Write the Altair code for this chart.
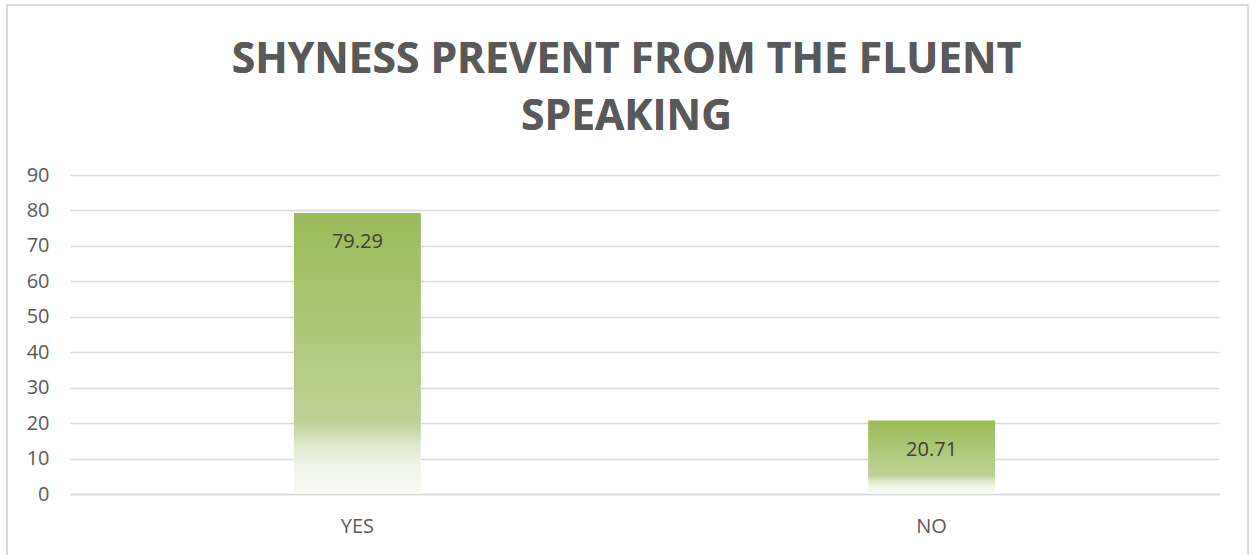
import altair as alt
import pandas as pd

categories = ["YES", "NO"]
values = [79.29, 20.71]
value_labels = ["79.29", "20.71"]
y_ticks = [0, 10, 20, 30, 40, 50, 60, 70, 80, 90]
title_lines = ["SHYNESS PREVENT FROM THE FLUENT", "SPEAKING"]

df = pd.DataFrame({"cat": categories, "val": values, "lab": value_labels})

W, H = 1149, 319
FONT = "Open Sans"

x_enc = alt.X("cat:N", sort=categories, title=None,
              scale=alt.Scale(paddingInner=0.779, paddingOuter=0.39),
              axis=alt.Axis(labelAngle=0, labelFont=FONT, labelFontSize=20,
                            labelColor="#595959", labelPadding=22, ticks=False,
                            domain=True, domainColor="#D9D9D9", domainWidth=1.5))
y_enc = alt.Y("val:Q", title=None,
              scale=alt.Scale(domain=[0, 90], nice=False),
              axis=alt.Axis(values=y_ticks, labelFont=FONT, labelFontSize=20,
                            labelColor="#595959", labelPadding=21, ticks=False,
                            labelOverlap=False,
                            domain=False, grid=True, gridColor="#D9D9D9",
                            gridWidth=1.5))

grad = alt.Gradient(
    gradient="linear", x1=0, x2=0, y1=0, y2=1,
    stops=[
        alt.GradientStop(color="#9BBB59", offset=0),
        alt.GradientStop(color="#BCD294", offset=0.74),
        alt.GradientStop(color="#DCE7C9", offset=0.82),
        alt.GradientStop(color="#F0F5E8", offset=0.9),
        alt.GradientStop(color="#F8FAF4", offset=1),
    ],
)

bars = alt.Chart(df).mark_bar(color=grad).encode(x=x_enc, y=y_enc)
labels = alt.Chart(df).mark_text(font=FONT, fontSize=20, color="#404040",
                                 baseline="middle", dy=29).encode(
    x=x_enc, y=y_enc, text="lab:N")

border = alt.Chart(df).mark_rect(fill=None, stroke="#D9D9D9", strokeWidth=2).encode(
    x=alt.value(-63), x2=alt.value(1178), y=alt.value(-170), y2=alt.value(420))

title1 = alt.Chart(df).mark_text(font=FONT, fontSize=42.5, fontWeight="bold",
                                 color="#595959", baseline="alphabetic",
                                 align="center").encode(
    x=alt.value(W / 2 - 18), y=alt.value(-102), text=alt.value(title_lines[0]))
title2 = alt.Chart(df).mark_text(font=FONT, fontSize=42.5, fontWeight="bold",
                                 color="#595959", baseline="alphabetic",
                                 align="center").encode(
    x=alt.value(W / 2 - 18), y=alt.value(-45), text=alt.value(title_lines[1]))

chart = alt.layer(border, bars, labels, title1, title2).properties(
    width=W, height=H,
    background="white",
    autosize=alt.AutoSizeParams(type="none"),
    padding={"left": 70, "top": 175, "right": 34, "bottom": 61},
).configure_view(strokeWidth=0, stroke="transparent")

chart.save("out.html", embed_options={"renderer": "svg", "actions": False})
